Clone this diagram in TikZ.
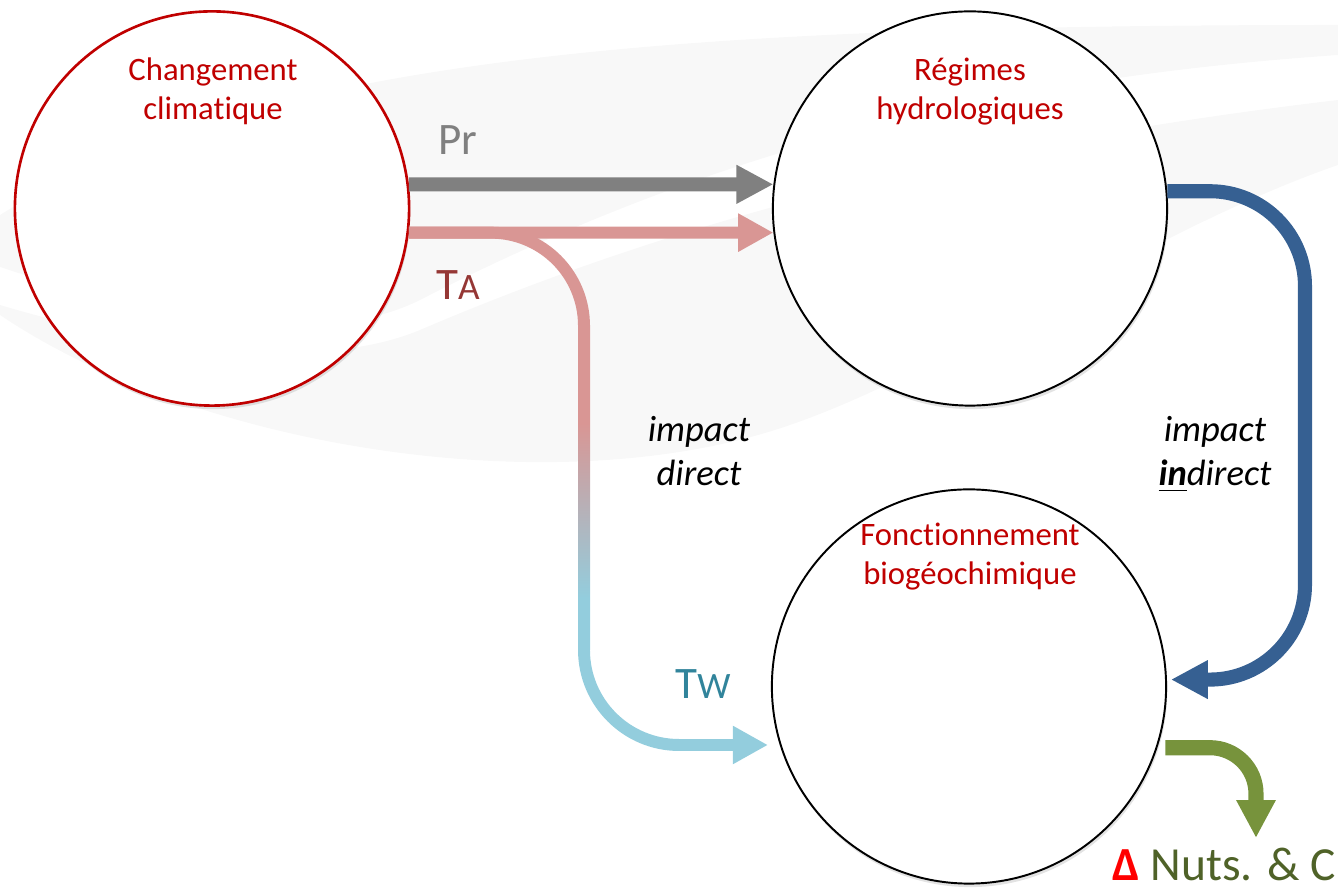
\documentclass[tikz,border=0pt]{standalone}
\usepackage{fontspec}
\setmainfont{Carlito}[RawFeature=-liga]
\usetikzlibrary{arrows.meta,shadows,calc}
\definecolor{titlered}{HTML}{C00000}
\definecolor{prgray}{HTML}{808080}
\definecolor{tapink}{HTML}{D99694}
\definecolor{tatext}{HTML}{953735}
\definecolor{twblue}{HTML}{93CDDD}
\definecolor{twtext}{HTML}{31849B}
\definecolor{hydblue}{HTML}{366092}
\definecolor{nutgreen}{HTML}{77933C}
\definecolor{nuttext}{HTML}{4F6228}
\definecolor{swooshgray}{HTML}{F8F8F8}
\pgfdeclareverticalshading{tashade}{100bp}{color(0bp)=(twblue); color(33bp)=(twblue); color(60bp)=(tapink); color(100bp)=(tapink)}
\begin{document}
\begin{tikzpicture}[x=0.01cm,y=-0.01cm,
  bubble/.style={circle,draw=black,line width=0.55pt,fill=white,minimum size=3.94cm,inner sep=0pt,
    drop shadow={shadow xshift=0.012cm,shadow yshift=-0.035cm,opacity=0.22}},
  redbubble/.style={bubble,draw=titlered,line width=0.75pt},
  bubbletitle/.style={anchor=north,inner sep=0pt,align=center,text=titlered,font=\fontsize{9.3}{11.2}\selectfont},
  flowlabel/.style={anchor=base,inner sep=0pt,font=\fontsize{12.8}{14}\selectfont},
  impactlabel/.style={anchor=north,inner sep=0pt,align=center,font=\itshape\fontsize{10.4}{12.5}\selectfont},
  prflow/.style={draw=prgray,line width=4pt,-{Triangle[length=10.5pt,width=10.3pt]}},
  taflow/.style={draw=tapink,line width=3.4pt,-{Triangle[length=10pt,width=10.2pt]}},
  taline/.style={draw=tapink,line width=3.4pt},
  twflow/.style={draw=twblue,line width=3.4pt,-{Triangle[length=10pt,width=10.2pt]}},
  hydflow/.style={draw=hydblue,line width=4pt,-{Triangle[length=10.5pt,width=10.3pt]}},
  nutflow/.style={draw=nutgreen,line width=4.3pt,-{Triangle[length=10.8pt,width=10.5pt]}}
]
\useasboundingbox (0,0) rectangle (1338,889);
% background swooshes
\fill[swooshgray] (0,215) .. controls (250,60) and (650,25) .. (1338,25) -- (1338,55)
  .. controls (1050,75) and (750,130) .. (420,300) .. controls (300,360) and (100,300) .. (0,267) -- cycle;
\fill[swooshgray] (0,315) .. controls (200,450) and (560,505) .. (790,425)
  .. controls (950,370) and (1150,230) .. (1338,165) -- (1338,100)
  .. controls (1000,140) and (700,210) .. (420,330) .. controls (300,380) and (100,335) .. (0,305) -- cycle;
% circles
\node[redbubble] (c1) at (212,208.5) {};
\node[bubble] (c2) at (970,208.5) {};
\node[bubble] (c3) at (969,686.5) {};
\node[bubbletitle] (t1) at (213,57) {Changement\\climatique};
\node[bubbletitle] (t2) at (970,57) {Régimes\\hydrologiques};
\node[bubbletitle] (t3) at (970,522) {Fonctionnement\\biogéochimique};
% named free ends
\coordinate (brtop) at (584,328);
\coordinate (brbot) at (584,647);
\coordinate (twtip) at (768,745);
\coordinate (hydmid) at (1305,435);
\coordinate (gtip) at (1256,838);
% connectors
\draw[prflow] (c1.7) -- (c2.173);
\draw[taline,rounded corners=0.93cm] (c1.-7.7) -| (brtop);
\shade[shading=tashade] (578,326) rectangle (590,650);
\draw[twflow,rounded corners=0.95cm] (brbot) |- (twtip);
\draw[taflow] (c1.-7.7) -- (c2.187.7);
\draw[hydflow,rounded corners=0.95cm] (c2.5.4) -| (hydmid) |- ([xshift=0.04cm]c3.2);
\draw[nutflow,rounded corners=0.46cm] ([xshift=0.08cm]c3.-18.2) -| (gtip);
% labels
\node[flowlabel,text=prgray] (pr) at (458,155) {Pr};
\node[flowlabel,text=tatext] (ta) at (458,300) {T{\fontsize{10.6}{12}\selectfont A}};
\node[flowlabel,text=twtext] (tw) at (703,699) {T{\fontsize{10.6}{12}\selectfont W}};
\node[impactlabel] (imd) at (699,416) {impact\\direct};
\node[impactlabel] (imi) at (1215,416) {impact\\\underline{\textbf{in}}direct};
\node[anchor=base west,inner sep=0pt,text=nuttext,font=\fontsize{13.5}{15}\selectfont] (nuts) at (1112,881)
  {{\color{red}\textbf{Δ}} Nuts. \& C};
\end{tikzpicture}
\end{document}
